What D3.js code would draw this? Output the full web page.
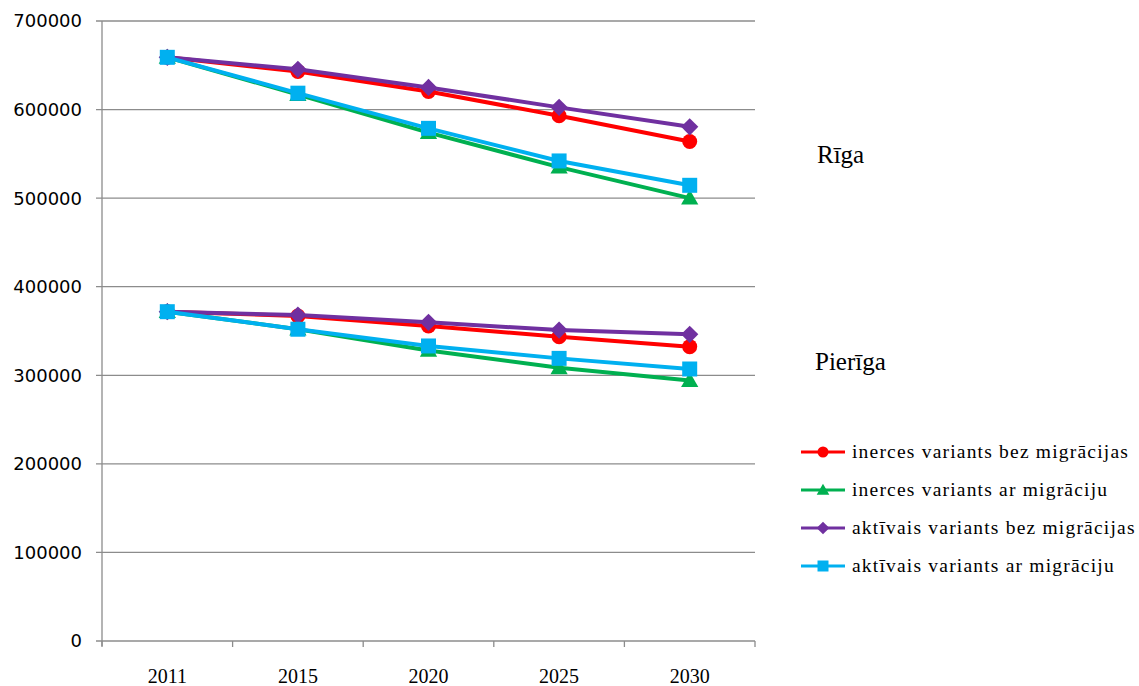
<!DOCTYPE html>
<html><head><meta charset="utf-8">
<script src="https://cdn.jsdelivr.net/npm/d3@7"></script>
<style>body{margin:0;background:#fff}</style>
</head><body>
<script>
const years = ["2011","2015","2020","2025","2030"];
const yTicks = [0,100000,200000,300000,400000,500000,600000,700000];
const seriesNames = ["inerces variants bez migrācijas","inerces variants ar migrāciju","aktīvais variants bez migrācijas","aktīvais variants ar migrāciju"];
const seriesColors = ["#FF0000","#00B050","#7030A0","#00B0F0"];
const seriesSymbols = ["circle","triangle","diamond","square"];
// Rīga
const rigaInercesBez = [659000,643000,620500,593000,564000];
const rigaInercesAr  = [659000,617000,574000,535000,500000];
const rigaAktivaisBez= [659000,645500,625000,602500,580500];
const rigaAktivaisAr = [659000,618500,578800,542000,514500];
// Pierīga
const pierigaInercesBez = [371800,367000,355600,343600,332300];
const pierigaInercesAr  = [371800,352000,328000,308500,294000];
const pierigaAktivaisBez= [371800,368000,359800,351100,346300];
const pierigaAktivaisAr = [371800,352000,333100,319100,307100];
const regionLabels = ["Rīga","Pierīga"];

const rigaSeries = [rigaInercesBez,rigaInercesAr,rigaAktivaisBez,rigaAktivaisAr];
const pierigaSeries = [pierigaInercesBez,pierigaInercesAr,pierigaAktivaisBez,pierigaAktivaisAr];

const W=1139,H=686;
const svg=d3.select("body").append("svg").attr("width",W).attr("height",H);
const x=d3.scaleBand().domain(years).range([102,755]);
const y=d3.scaleLinear().domain([0,700000]).range([641,21]);
const gridColor="#8c8c8c";
const serif="'Liberation Serif','Times New Roman',Times,serif";

svg.append("g").selectAll("line").data(yTicks).join("line")
 .attr("x1",96).attr("x2",755).attr("y1",d=>y(d)).attr("y2",d=>y(d))
 .attr("stroke",gridColor).attr("stroke-width",1.3);
svg.append("line").attr("x1",102).attr("x2",102).attr("y1",21).attr("y2",646)
 .attr("stroke",gridColor).attr("stroke-width",1.3);
const xt=[...years.map(d=>x(d)),755];
svg.append("g").selectAll("line").data(xt).join("line")
 .attr("x1",d=>d).attr("x2",d=>d).attr("y1",641).attr("y2",647)
 .attr("stroke",gridColor).attr("stroke-width",1.3);
svg.append("g").selectAll("text").data(yTicks).join("text")
 .attr("x",82).attr("y",d=>y(d)).attr("dy","0.36em").attr("text-anchor","end")
 .attr("font-family","'DejaVu Sans'").attr("font-size",18).attr("fill","#000")
 .text(d=>d);
svg.append("g").selectAll("text").data(years).join("text")
 .attr("x",d=>x(d)+x.bandwidth()/2).attr("y",683).attr("text-anchor","middle")
 .attr("font-family",serif).attr("font-size",20).attr("fill","#000")
 .text(d=>d);

function marker(type,s){
  if(type==="circle") return d3.symbol().type(d3.symbolCircle).size(Math.PI*s*s)();
  if(type==="square") return `M${-s},${-s}H${s}V${s}H${-s}Z`;
  if(type==="diamond") return `M0,${-s*1.15}L${s*1.15},0L0,${s*1.15}L${-s*1.15},0Z`;
  if(type==="triangle") return `M0,${-s*1.15}L${s*1.15},${s*0.85}L${-s*1.15},${s*0.85}Z`;
}
const line=d3.line().x((d,i)=>x(years[i])+x.bandwidth()/2).y(d=>y(d));

function drawSeries(k,vals){
  const g=svg.append("g");
  g.append("path").datum(vals).attr("d",line).attr("fill","none")
   .attr("stroke",seriesColors[k]).attr("stroke-width",4).attr("stroke-linejoin","round");
  g.selectAll("path.m").data(vals).join("path").attr("class","m")
   .attr("transform",(d,i)=>`translate(${x(years[i])+x.bandwidth()/2},${y(d)})`)
   .attr("d",marker(seriesSymbols[k],7.5))
   .attr("fill",seriesColors[k]);
}
for(let k=0;k<4;k++){drawSeries(k,rigaSeries[k]);drawSeries(k,pierigaSeries[k]);}

svg.append("text").attr("x",817).attr("y",163).attr("font-family",serif)
 .attr("font-size",25).text(regionLabels[0]);
svg.append("text").attr("x",815).attr("y",370).attr("font-family",serif)
 .attr("font-size",25).text(regionLabels[1]);

const leg=svg.append("g");
seriesNames.forEach((n,k)=>{
  const cy=452+k*38;
  leg.append("line").attr("x1",801).attr("x2",845).attr("y1",cy).attr("y2",cy)
   .attr("stroke",seriesColors[k]).attr("stroke-width",3);
  leg.append("path").attr("transform",`translate(823,${cy})`)
   .attr("d",marker(seriesSymbols[k],5.5))
   .attr("fill",seriesColors[k]);
  leg.append("text").attr("x",852).attr("y",cy+6).attr("font-family",serif)
   .attr("font-size",19.5).attr("letter-spacing",1.2).text(n);
});
</script>
</body></html>
